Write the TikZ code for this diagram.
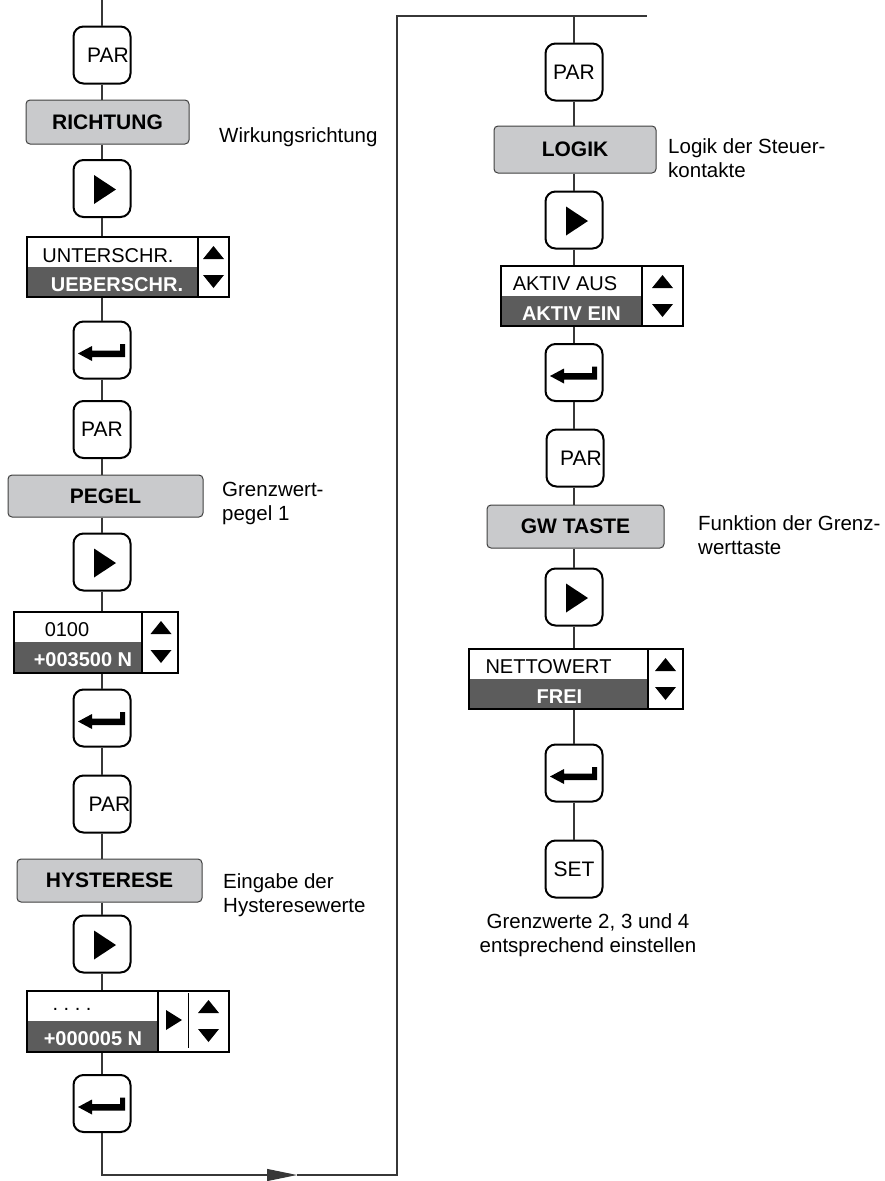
\documentclass[tikz,border=0pt]{standalone}
\usepackage{fontspec}
\setmainfont{Liberation Sans}
\usetikzlibrary{arrows.meta}
\definecolor{keygray}{RGB}{201,202,204}
\definecolor{selgray}{RGB}{92,92,92}
\definecolor{linegray}{RGB}{55,55,55}
\tikzset{
  key/.style={draw=black, fill=white, line width=2pt, rounded corners=10pt,
    minimum width=57pt, minimum height=57pt, inner sep=0pt,
    font=\fontsize{21}{24}\selectfont},
  title/.style={draw=black!75, fill=keygray, line width=1pt, rounded corners=4pt,
    minimum height=44pt, inner sep=0pt, font=\fontsize{21}{24}\selectfont\bfseries},
  conn/.style={draw=linegray, line width=1.1pt},
  note/.style={inner sep=0pt, align=left, font=\fontsize{20.5}{24}\selectfont},
  seltop/.style={inner sep=0pt, font=\fontsize{20}{24}\selectfont},
  selbot/.style={inner sep=0pt, text=white, font=\fontsize{20}{24}\selectfont\bfseries},
  selframe/.style={draw=black, line width=1.3pt, inner sep=0pt},
  playsym/.pic={\fill (-8,-13.5) -- (14,1) -- (-8,15.5) -- cycle;},
  entersym/.pic={\fill (-24,3.5) -- (-10,-4) -- (-10,0.5) -- (18,0.5) -- (18,-6)
    -- (23,-6) -- (23,7) -- (-10,7) -- (-10,11) -- cycle;},
  updown/.pic={\fill (-10.5,-8) -- (10.5,-8) -- (0,-21) -- cycle;
    \fill (-10.5,8) -- (10.5,8) -- (0,21) -- cycle;}
}
\begin{document}
\begin{tikzpicture}[x=1pt, y=-1pt]
  \useasboundingbox (0,0) rectangle (885,1181);
  % left column
  \coordinate (lt) at (102,0);
  \node[key] (par1) at (102,55) {\hspace*{12pt}PAR};
  \node[title, minimum width=163pt] (richtung) at (107.5,122) {RICHTUNG};
  \node[key] (play1) at (102,188.5) {};
  \pic at (play1) {playsym};
  \fill[selgray] (27,267) rectangle (198,297);
  \node[seltop] at (108,256) {UNTERSCHR.};
  \node[selbot] at (117,285) {UEBERSCHR.};
  \draw[selframe] (198,237) -- (198,297);
  \pic at (213.5,267) {updown};
  \node[selframe, minimum width=202pt, minimum height=60pt] (sel1) at (128,267) {};
  \node[key] (ent1) at (102,350) {};
  \pic at (ent1) {entersym};
  \node[key] (par2) at (102,429.5) {PAR};
  \node[title, minimum width=195pt, minimum height=42pt] (pegel) at (105.5,496) {PEGEL};
  \node[key] (play2) at (102,562) {};
  \pic at (play2) {playsym};
  \fill[selgray] (14,642) rectangle (142,673);
  \node[seltop] at (67,630) {0100};
  \node[selbot] at (83,660) {+003500 N};
  \draw[selframe] (142,612) -- (142,673);
  \pic at (161,642) {updown};
  \node[selframe, minimum width=164pt, minimum height=61pt] (sel2) at (96,642.5) {};
  \node[key] (ent2) at (102,718) {};
  \pic at (ent2) {entersym};
  \node[key] (par3) at (102,804) {\hspace*{15pt}PAR};
  \node[title, minimum width=185pt, minimum height=43pt] (hyst) at (109.5,880.5) {HYSTERESE};
  \node[key] (play3) at (102,944) {};
  \pic at (play3) {playsym};
  \fill[selgray] (27,1021) rectangle (158,1052);
  \node[seltop] at (72,1009) {.\ .\ .\ .};
  \node[selbot] at (93,1039) {+000005 N};
  \draw[selframe] (158,991) -- (158,1052);
  \fill (166,1010) -- (182,1020) -- (166,1030) -- cycle;
  \draw[line width=1pt] (188,993) -- (188,1048);
  \pic at (208.5,1021) {updown};
  \node[selframe, minimum width=202pt, minimum height=61pt] (sel3) at (128,1021.5) {};
  \node[key] (ent3) at (102,1103.5) {};
  \pic at (ent3) {entersym};
  \node[note, anchor=base west] (lbl1) at (219,142) {Wirkungsrichtung};
  \node[note, anchor=north west] (lbl2) at (222,482) {Grenzwert-\\pegel 1};
  \node[note, anchor=north west] (lbl3) at (223,873) {Eingabe der\\Hysteresewerte};
  % return path
  \coordinate (bl) at (102,1175);
  \coordinate (tip) at (297,1175);
  \coordinate (br) at (397,1175);
  \coordinate (tr) at (397,16);
  \coordinate (tend) at (647,16);
  \coordinate (rt) at (574,16);
  % right column
  \node[key] (par4) at (574,72) {PAR};
  \node[title, minimum width=162pt, minimum height=47pt] (logik) at (575,149.5) {LOGIK};
  \node[key] (play4) at (574,220) {};
  \pic at (play4) {playsym};
  \fill[selgray] (501,296) rectangle (642,326);
  \node[seltop] at (565,284) {AKTIV AUS};
  \node[selbot] at (571.5,314) {AKTIV EIN};
  \draw[selframe] (642,266) -- (642,326);
  \pic at (662.5,296) {updown};
  \node[selframe, minimum width=182pt, minimum height=60pt] (sel4) at (592,296) {};
  \node[key] (ent4) at (574,372.5) {};
  \pic at (ent4) {entersym};
  \node[key] (par5) at (575,458) {\hspace*{12pt}PAR};
  \node[title, minimum width=177pt, minimum height=43pt] (gwtaste) at (575.5,526.5) {GW TASTE};
  \node[key] (play5) at (574,597) {};
  \pic at (play5) {playsym};
  \fill[selgray] (469,679) rectangle (648,709);
  \node[seltop] at (548.5,667) {NETTOWERT};
  \node[selbot] at (559.5,697) {FREI};
  \draw[selframe] (648,649) -- (648,709);
  \pic at (665.5,679) {updown};
  \node[selframe, minimum width=214pt, minimum height=60pt] (sel5) at (576,679) {};
  \node[key] (ent5) at (574,773) {};
  \pic at (ent5) {entersym};
  \node[key] (set) at (574,869) {SET};
  \node[note, anchor=north west] (lbl4) at (668,138) {Logik der Steuer-\\kontakte};
  \node[note, anchor=north west] (lbl5) at (698,515) {Funktion der Grenz-\\werttaste};
  \node[note, align=center, anchor=north] (lbl6) at (588,913) {Grenzwerte 2, 3 und 4\\entsprechend einstellen};
  % connectors
  \draw[conn] (lt) -- (par1);
  \foreach \a/\b in {par1/richtung, richtung/play1, play1/sel1, sel1/ent1, ent1/par2,
      par2/pegel, pegel/play2, play2/sel2, sel2/ent2, ent2/par3, par3/hyst,
      hyst/play3, play3/sel3, sel3/ent3}
    \draw[conn] (\a.south -| lt) -- (\b.north -| lt);
  \foreach \a/\b in {par4/logik, logik/play4, play4/sel4, sel4/ent4, ent4/par5,
      par5/gwtaste, gwtaste/play5, play5/sel5, sel5/ent5, ent5/set}
    \draw[conn] (\a.south -| rt) -- (\b.north -| rt);
  \draw[conn, -{Triangle[length=30pt, width=12pt]}] (ent3) -- (bl) -- (tip);
  \draw[conn] (tip) -- (br) -- (tr) -- (tend);
  \draw[conn] (rt) -- (par4);
\end{tikzpicture}
\end{document}
